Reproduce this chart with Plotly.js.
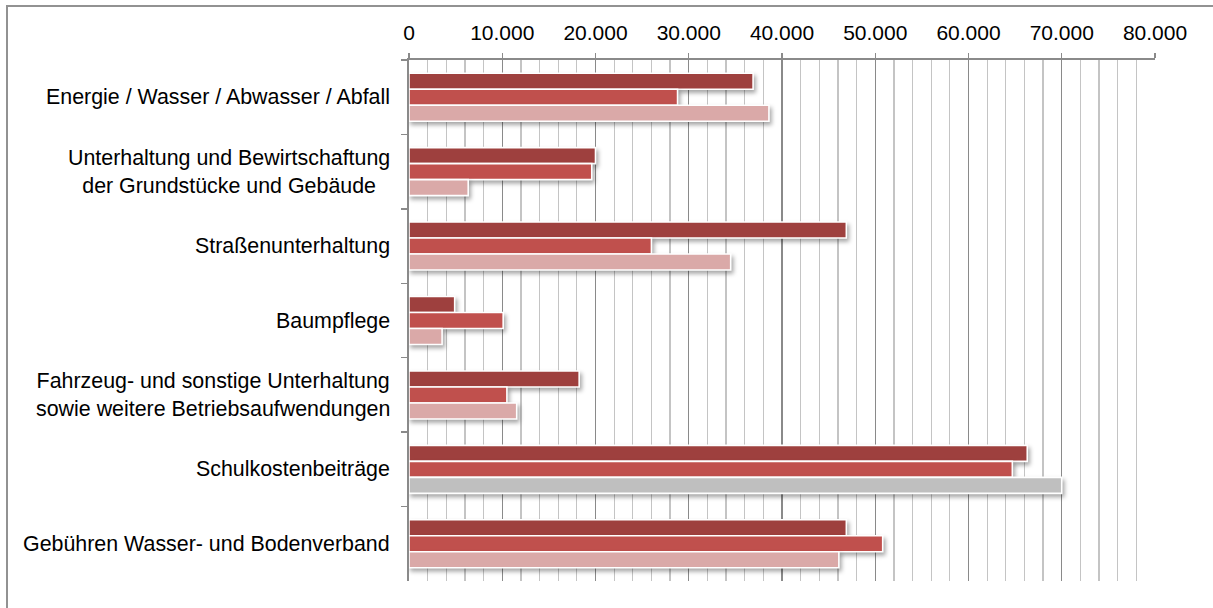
<!DOCTYPE html>
<html>
<head>
<meta charset="utf-8">
<script src="https://cdn.plot.ly/plotly-3.0.1.min.js"></script>
<style>
  html, body { margin: 0; padding: 0; background: #fff; overflow: hidden; }
  #wrap { position: relative; width: 1213px; height: 608px; }
  #chart { position: absolute; left: 0; top: 0; width: 1213px; height: 608px; }
  #frame { position: absolute; left: 6px; top: 5px; width: 1400px; height: 800px;
           border-top: 2px solid #929292; border-left: 2px solid #929292; pointer-events: none; }
  .bars .point path { filter: drop-shadow(2px 3px 2px rgba(0,0,0,0.35)); }
</style>
</head>
<body>
<div id="wrap">
  <div id="chart"></div>
  <div id="frame"></div>
</div>
<script>
// ---- data ----
const categories = [
  "Energie / Wasser / Abwasser / Abfall",
  "Unterhaltung und Bewirtschaftung<br>der Grundstücke und Gebäude",
  "Straßenunterhaltung",
  "Baumpflege",
  "Fahrzeug- und sonstige Unterhaltung<br>sowie weitere Betriebsaufwendungen",
  "Schulkostenbeiträge",
  "Gebühren Wasser- und Bodenverband"
];
const series1 = [36900, 20000, 46900, 4900, 18250, 66300, 46900];
const series2 = [28800, 19600, 26000, 10100, 10500, 64700, 50800];
const series3 = [38600, 6350, 34500, 3550, 11550, 70000, 46100];
const xTickValues = [0, 10000, 20000, 30000, 40000, 50000, 60000, 70000, 80000];

// ---- styles ----
const FONT = "Liberation Sans, Arial, Helvetica, sans-serif";
const FS_LABEL = 21.4;
const FS_TICK = 21;
const colors = ["#9E403E", "#C0504D", "#DAA9A8"];
const highlightCategory = 5;      // third bar of this category is grey
const highlightColor = "#BFBFBF";
const gridMajor = "#8a8a8a";
const gridMinor = "#c4c4c4";

const allSeries = [series1, series2, series3];
const traces = allSeries.map((vals, i) => ({
  type: "bar",
  orientation: "h",
  name: "Reihe " + (i + 1),
  x: vals,
  y: categories,
  marker: {
    color: (i === 2) ? vals.map((v, k) => k === highlightCategory ? highlightColor : colors[i]) : colors[i],
    line: { color: "#ffffff", width: 1.6 }
  },
  hoverinfo: "x+y"
}));

const annotations = categories.map(c => ({
  xref: "paper", yref: "y",
  x: 0, y: c,
  xanchor: "right", yanchor: "middle",
  xshift: -17,
  text: c,
  align: "center",
  showarrow: false,
  font: { family: FONT, size: FS_LABEL, color: "#000" }
}));

const layout = {
  width: 1213, height: 608,
  margin: { l: 409, r: 58, t: 60, b: 27, pad: 0 },
  paper_bgcolor: "#ffffff",
  plot_bgcolor: "#ffffff",
  separators: ",.",
  showlegend: false,
  barmode: "group",
  bargap: 0.355,
  bargroupgap: 0,
  xaxis: {
    side: "top",
    range: [0, 80000],
    tickvals: xTickValues,
    tickformat: ",d",
    showgrid: true, gridcolor: gridMajor, gridwidth: 1.4,
    showline: true, linecolor: gridMajor, linewidth: 1.6,
    ticks: "outside", ticklen: 5, tickcolor: gridMajor, tickwidth: 1.4,
    ticklabelstandoff: 5,
    tickfont: { family: FONT, size: FS_TICK, color: "#000" },
    minor: { dtick: 2000, tick0: 0, showgrid: true, gridcolor: gridMinor, gridwidth: 1.2, ticks: "" },
    zeroline: false,
    fixedrange: true
  },
  yaxis: {
    type: "category",
    autorange: "reversed",
    showticklabels: false,
    ticks: "outside", tickson: "boundaries", ticklen: 6, tickcolor: gridMajor, tickwidth: 1.4,
    showline: true, linecolor: gridMajor, linewidth: 1.6,
    showgrid: false, zeroline: false,
    fixedrange: true
  },
  annotations: annotations
};

Plotly.newPlot("chart", traces, layout, { displayModeBar: false, staticPlot: true });
</script>
</body>
</html>
